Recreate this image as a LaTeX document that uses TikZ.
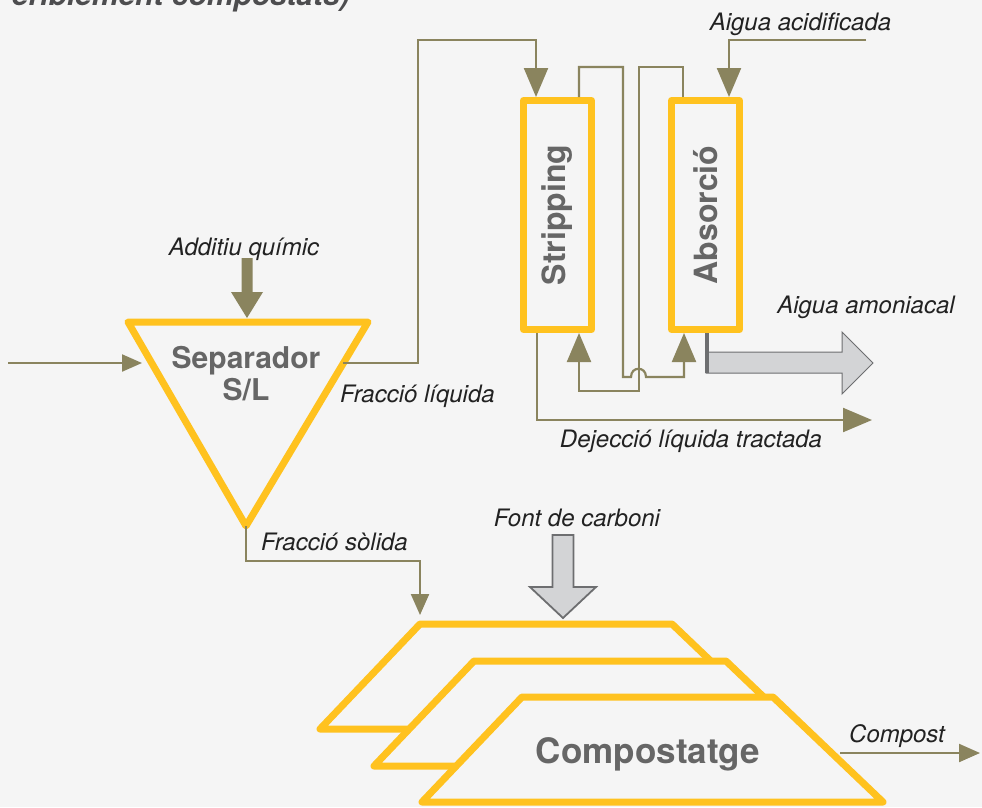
\documentclass[tikz,border=0pt]{standalone}
\usepackage{fontspec}
\setmainfont{TeX Gyre Heros}
\usetikzlibrary{arrows.meta,calc}
\definecolor{bg}{HTML}{F5F5F5}
\definecolor{olive}{HTML}{8A845E}
\definecolor{gold}{HTML}{FFC21F}
\definecolor{lbl}{HTML}{666666}
\definecolor{txt}{HTML}{222222}
\definecolor{ttl}{HTML}{4D4D4F}
\definecolor{agray}{HTML}{D3D4D6}
\definecolor{agrayb}{HTML}{6D6E70}
\begin{document}
\begin{tikzpicture}[x=1pt,y=-1pt,
  flow/.style={draw=olive, line width=2.2pt},
  bigtip/.style={-{Triangle[length=29pt,width=24pt]}},
  smalltip/.style={-{Triangle[length=21pt,width=18pt]}},
  unit/.style={draw=gold, line width=7pt, line join=round, fill=bg},
  unitlabel/.style={text=lbl, font=\fontsize{32}{36}\selectfont\bfseries, inner sep=0pt},
  seplabel/.style={text=lbl, font=\fontsize{30}{34}\selectfont\bfseries, inner sep=0pt},
  note/.style={text=txt, font=\fontsize{24}{28}\selectfont\itshape, inner sep=0pt},
  blockgray/.style={fill=agray, draw=agrayb, line join=miter}
]
\fill[bg] (0,0) rectangle (982,807);
\useasboundingbox (0,0) rectangle (982,807);

% title (clipped at top)
\node[text=ttl, font=\fontsize{30}{34}\selectfont\bfseries\itshape, inner sep=0pt, anchor=base east] (title) at (350,5.5) {eriblement compostats)};

% separator
\coordinate (tl) at (128,322);
\coordinate (tr) at (368,322);
\coordinate (tb) at (246,526);
\draw[unit] (tl) -- (tr) -- (tb) -- cycle;
\node[seplabel, anchor=base] (sep1) at (246,368) {Separador};
\node[seplabel, anchor=base] (sep2) at (246,400) {S/L};

% columns
\node[unit, minimum width=68pt, minimum height=229pt, inner sep=0pt] (strip) at (557.5,215) {};
\node[unitlabel, rotate=90] (striplbl) at (strip.center) {Stripping};
\node[unit, minimum width=68pt, minimum height=229pt, inner sep=0pt] (abs) at (705.5,215) {};
\node[unitlabel, rotate=90] (abslbl) at (abs.center) {Absorció};

% input
\coordinate (in) at (8,363);
\coordinate (sepin) at (142,363);
\draw[flow, -{Triangle[length=20pt,width=17pt]}] (in) -- (sepin);

% additive
\fill[olive] (241.5,258) -- (252.5,258) -- (252.5,292) -- (263,292) -- (247,318) -- (231,292) -- (241.5,292) -- cycle;
\node[note, anchor=base] (add) at (244,255) {Additiu químic};

% liquid fraction
\coordinate (sepout) at (343,363);
\coordinate (fl1) at (418,363);
\coordinate (fl2) at (418,40);
\coordinate (fl3) at (536,40);
\draw[flow,bigtip] (sepout) -- (fl1) -- (fl2) -- (fl3) -- (fl3 |- strip.north);
\node[note, anchor=base west] (fliq) at (340,402) {Fracció líquida};

% gas from stripping to absorption
\coordinate (g1) at (579,67);
\coordinate (g2) at (623,67);
\coordinate (g3) at (623,377);
\coordinate (h1) at (631,377);
\coordinate (h2) at (646,377);
\coordinate (g4) at (684,377);
\draw[flow,bigtip] (g1 |- strip.north) -- (g1) -- (g2) -- (g3) -- (h1)
  .. controls ($(h1)+(0,-11)$) and ($(h2)+(0,-11)$) .. (h2) -- (g4) -- (g4 |- abs.south);

% return from absorption to stripping
\coordinate (r1) at (683,67);
\coordinate (r2) at (639,67);
\coordinate (r3) at (639,391);
\coordinate (r4) at (579,391);
\draw[flow,bigtip] (r1 |- abs.north) -- (r1) -- (r2) -- (r3) -- (r4) -- (r4 |- strip.south);

% treated liquid
\coordinate (d1) at (537,420);
\coordinate (d2) at (872,420);
\draw[flow,bigtip] (d1 |- strip.south) -- (d1) -- (d2);
\node[note, anchor=base] (dej) at (691,447) {Dejecció líquida tractada};

% acidified water
\coordinate (aa0) at (866,40);
\coordinate (aa1) at (729,40);
\draw[flow,bigtip] (aa0) -- (aa1) -- (aa1 |- abs.north);
\node[note, anchor=base] (acid) at (800.5,30) {Aigua acidificada};

% ammoniacal water
\draw[blockgray, line width=1pt] (706,352) -- (842,352) -- (842,332) -- (873,363) -- (842,394) -- (842,373) -- (706,373) -- cycle;
\draw[agrayb, line width=3.5pt] (707,333) -- (707,373);
\node[note, anchor=base] (amon) at (866,313) {Aigua amoniacal};

% solid fraction
\coordinate (fs1) at (246,561);
\coordinate (fs2) at (420,561);
\coordinate (fs3) at (420,615);
\draw[flow,smalltip] (tb) -- (fs1) -- (fs2) -- (fs3);
\node[note, anchor=base west] (fsol) at (261,550) {Fracció sòlida};

% composting piles
\draw[unit] (420,624) -- (672,624) -- (782,729) -- (320,729) -- cycle;
\draw[unit] (474,661) -- (726,661) -- (836,766) -- (374,766) -- cycle;
\draw[unit] (522,697) -- (773,697) -- (883,802) -- (422,802) -- cycle;
\node[text=lbl, font=\fontsize{35}{40}\selectfont\bfseries, inner sep=0pt, anchor=base] (comp) at (648,763) {Compostatge};

% carbon source
\draw[blockgray, line width=1.8pt] (552.5,535) -- (573.5,535) -- (573.5,587) -- (596,587) -- (563,618) -- (530,587) -- (552.5,587) -- cycle;
\node[note, anchor=base] (carb) at (577,526) {Font de carboni};

% compost out
\coordinate (c0) at (840,753);
\coordinate (c1) at (980,753);
\draw[flow,smalltip] (c0) -- (c1);
\node[note, anchor=base] (cpst) at (897,742) {Compost};
\end{tikzpicture}
\end{document}
